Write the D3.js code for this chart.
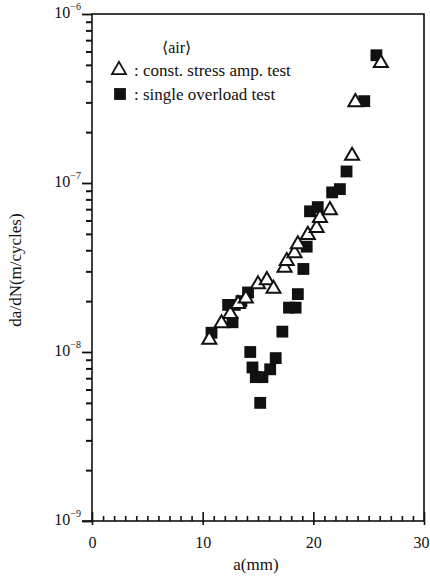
<!DOCTYPE html>
<html>
<head>
<meta charset="utf-8">
<script src="https://cdn.jsdelivr.net/npm/d3@7"></script>
<style>
  html, body { margin: 0; padding: 0; background: #fff; }
  svg { display: block; }
  text { font-family: "Liberation Serif", "DejaVu Serif", serif; fill: #111; }
</style>
</head>
<body>
<svg id="chart" width="430" height="578"></svg>
<script>
// Crack length a (mm) and growth rate da/dN (m/cycle), in air
const constAmpA = [10.6, 11.7, 12.5, 13.2, 13.9, 15.0, 15.8, 16.4, 17.4, 17.6, 18.3, 18.6, 19.5, 20.3, 20.6, 21.5, 23.5, 23.8, 26.1];
const constAmpRate = [1.2e-8, 1.5e-8, 1.7e-8, 1.95e-8, 2.1e-8, 2.55e-8, 2.7e-8, 2.4e-8, 3.2e-8, 3.5e-8, 3.9e-8, 4.4e-8, 5.0e-8, 5.5e-8, 6.3e-8, 7.0e-8, 1.47e-7, 3.05e-7, 5.2e-7];

const overloadA = [10.8, 12.3, 12.7, 12.9, 13.5, 14.1, 14.3, 14.5, 14.8, 15.2, 15.4, 16.1, 16.6, 17.2, 17.8, 18.4, 18.6, 19.1, 19.4, 19.7, 20.4, 21.7, 22.4, 23.0, 24.6, 25.7];
const overloadRate = [1.3e-8, 1.9e-8, 1.5e-8, 1.9e-8, 2.0e-8, 2.25e-8, 1.0e-8, 8.1e-9, 7.1e-9, 5.0e-9, 7.1e-9, 7.9e-9, 9.2e-9, 1.32e-8, 1.83e-8, 1.83e-8, 2.2e-8, 3.1e-8, 4.2e-8, 6.8e-8, 7.2e-8, 8.8e-8, 9.2e-8, 1.17e-7, 3.05e-7, 5.7e-7];

const xTicks = [0, 10, 20, 30];
const yDecades = [-6, -7, -8, -9];

const legendTitle = "\u27E8air\u27E9";
const legendLabels = ["const. stress amp. test", "single overload test"];

const svg = d3.select("#chart");
const plotL = 92, plotR = 424, plotT = 14, plotB = 521;

const x = d3.scaleLinear().domain([0, 30]).range([plotL, plotR]);
const y = d3.scaleLog().domain([1e-9, 1e-6]).range([plotB, plotT]);

const ink = "#111";

// frame
svg.append("rect")
  .attr("x", plotL).attr("y", plotT)
  .attr("width", plotR - plotL).attr("height", plotB - plotT)
  .attr("fill", "none").attr("stroke", ink).attr("stroke-width", 1.6);

// y-axis: decade ticks and minor ticks, drawn outward
const yMinor = [];
for (let e = -9; e < -6; e++) {
  for (let m = 2; m <= 9; m++) yMinor.push(m * Math.pow(10, e));
}
const yAxis = d3.axisLeft(y).tickValues(yMinor).tickSize(6).tickFormat("");
const gy = svg.append("g").attr("transform", `translate(${plotL},0)`).call(yAxis);
gy.select(".domain").remove();
gy.selectAll(".tick line").attr("stroke", ink).attr("stroke-width", 2);

const yMajorAxis = d3.axisLeft(y).tickValues(yDecades.map(e => Math.pow(10, e))).tickSize(10).tickFormat("");
const gy2 = svg.append("g").attr("transform", `translate(${plotL},0)`).call(yMajorAxis);
gy2.select(".domain").remove();
gy2.selectAll(".tick line").attr("stroke", ink).attr("stroke-width", 1.8);

// decade labels as 10 with superscript exponent
yDecades.forEach(e => {
  const t = svg.append("text")
    .attr("x", plotL - 11).attr("y", y(Math.pow(10, e)) + 4)
    .attr("text-anchor", "end")
    .style("font-size", "16px");
  t.append("tspan").text("10");
  t.append("tspan").attr("dy", -8).style("font-size", "10px").text("\u2212" + Math.abs(e));
});

// x-axis: 1 mm minor ticks pointing inward
const xMinor = d3.range(1, 30).filter(v => v % 10 !== 0);
const xAxisMinor = d3.axisTop(x).tickValues(xMinor).tickSize(5).tickFormat("");
const gx = svg.append("g").attr("transform", `translate(0,${plotB})`).call(xAxisMinor);
gx.select(".domain").remove();
gx.selectAll(".tick line").attr("stroke", ink).attr("stroke-width", 1.6);

const xAxisMajor = d3.axisBottom(x).tickValues(xTicks).tickSize(0).tickPadding(16).tickFormat(d3.format("d"));
const gx2 = svg.append("g").attr("transform", `translate(0,${plotB})`).call(xAxisMajor);
gx2.select(".domain").remove();
gx2.selectAll(".tick text").style("font-size", "16px").attr("fill", ink)
  .style("font-family", "'Liberation Serif', serif")
  .attr("dx", d => d === 30 ? -3 : 0);
gx2.selectAll(".tick").append("line")
  .attr("y1", -9).attr("y2", 4).attr("stroke", ink).attr("stroke-width", 1.6);

// extend the x-axis slightly past the corner
svg.append("line").attr("x1", plotL - 10).attr("x2", plotL).attr("y1", plotB).attr("y2", plotB)
  .attr("stroke", ink).attr("stroke-width", 1.6);

// axis titles
svg.append("text")
  .attr("x", 256).attr("y", 570)
  .attr("text-anchor", "middle").style("font-size", "17px")
  .text("a(mm)");
svg.append("text")
  .attr("transform", `translate(21,270) rotate(-90)`)
  .attr("text-anchor", "middle").style("font-size", "17px")
  .text("da/dN(m/cycles)");

// markers
const triSize = 85, sqSize = 140;
const triangle = d3.symbol().type(d3.symbolTriangle).size(triSize);
const square = d3.symbol().type(d3.symbolSquare).size(sqSize);

const plot = svg.append("g");
plot.selectAll("path.ovl")
  .data(overloadA.map((a, i) => [a, overloadRate[i]]))
  .join("path")
  .attr("class", "ovl")
  .attr("transform", d => `translate(${x(d[0])},${y(d[1])})`)
  .attr("d", square)
  .attr("fill", ink);

plot.selectAll("path.cst")
  .data(constAmpA.map((a, i) => [a, constAmpRate[i]]))
  .join("path")
  .attr("class", "cst")
  .attr("transform", d => `translate(${x(d[0])},${y(d[1]) + 1})`)
  .attr("d", triangle)
  .attr("fill", "#fff").attr("stroke", ink).attr("stroke-width", 2);

// legend
const lg = svg.append("g");
lg.append("text").attr("x", 162).attr("y", 53).style("font-size", "16px").text(legendTitle);
lg.append("path").attr("transform", "translate(119,70)").attr("d", triangle)
  .attr("fill", "#fff").attr("stroke", ink).attr("stroke-width", 1.8);
lg.append("text").attr("x", 134).attr("y", 76).style("font-size", "17px").text(": " + legendLabels[0]);
lg.append("path").attr("transform", "translate(120,94)").attr("d", square)
  .attr("fill", ink);
lg.append("text").attr("x", 134).attr("y", 100).style("font-size", "17px").text(": " + legendLabels[1]);
</script>
</body>
</html>
